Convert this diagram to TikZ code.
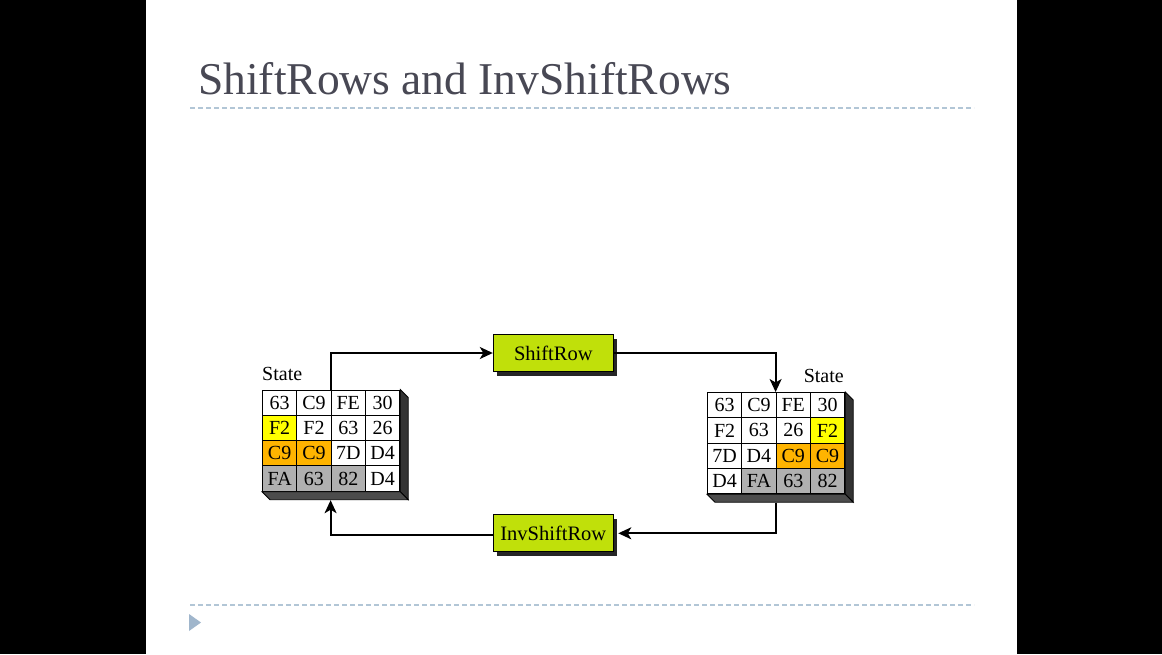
\documentclass[tikz,border=0pt]{standalone}
\usepackage{fontspec}
\setmainfont{Liberation Serif}
\usetikzlibrary{arrows.meta,calc,shadows}
\definecolor{titlegray}{RGB}{72,72,84}
\definecolor{rulecol}{RGB}{178,198,214}
\definecolor{tricol}{RGB}{160,182,204}
\definecolor{boxgreen}{RGB}{192,224,10}
\definecolor{cy}{RGB}{255,255,0}
\definecolor{co}{RGB}{255,180,0}
\definecolor{cg}{RGB}{176,176,176}
\begin{document}
\begin{tikzpicture}[x=1pt,y=-1pt,
  cellbox/.style={draw=black, line width=1pt, minimum width=34.3pt, minimum height=25.3pt, inner sep=0pt, font=\fontsize{20}{20}\selectfont},
  opbox/.style={draw=black, line width=1pt, fill=boxgreen, minimum width=120pt, minimum height=37pt, inner sep=0pt, font=\fontsize{20.5}{22}\selectfont, drop shadow={shadow xshift=4pt, shadow yshift=-4pt, fill=black!85, opacity=1}},
  lbl/.style={inner sep=0pt, font=\fontsize{20}{22}\selectfont},
  conn/.style={draw=black, line width=1.8pt, -{Stealth[length=13pt,width=12pt,inset=3.5pt]}},
  rightface/.style={fill=black!80, draw=black, line width=0.8pt},
  bottomface/.style={fill=black!70, draw=black, line width=0.8pt},
  dashrule/.style={draw=rulecol, line width=1.3pt, dash pattern=on 5pt off 3pt}
]
% background
\fill[black] (0,0) rectangle (1162,654);
\fill[white] (145.5,0) rectangle (1016.5,654);
\useasboundingbox (0,0) rectangle (1162,654);

% title and rules
\node[anchor=base west, inner sep=0pt, text=titlegray, font=\fontsize{45.5}{50}\selectfont] (title) at (198,94) {ShiftRows and InvShiftRows};
\draw[dashrule] (190,108) -- (974,108);
\draw[dashrule] (190,605) -- (974,605);
\fill[tricol] (189,614) -- (201,622.5) -- (189,631) -- cycle;

% left state
\foreach \r/\c/\t/\f in {1/1/63/white,1/2/C9/white,1/3/FE/white,1/4/30/white,
  2/1/F2/cy,2/2/F2/white,2/3/63/white,2/4/26/white,
  3/1/C9/co,3/2/C9/co,3/3/7D/white,3/4/D4/white,
  4/1/FA/cg,4/2/63/cg,4/3/82/cg,4/4/D4/white}
  \node[cellbox, fill=\f] (L\r\c) at ({262.5+(\c-0.5)*34.3},{390+(\r-0.5)*25.3}) {\t};
\fill[rightface] (L14.north east) -- ++(8,8) -- ($(L44.south east)+(8,8)$) -- (L44.south east) -- cycle;
\fill[bottomface] (L41.south west) -- (L44.south east) -- ($(L44.south east)+(8,8)$) -- ($(L41.south west)+(8,8)$) -- cycle;
\node[lbl, anchor=base west] (lstate) at (262,380) {State};

% right state
\foreach \r/\c/\t/\f in {1/1/63/white,1/2/C9/white,1/3/FE/white,1/4/30/white,
  2/1/F2/white,2/2/63/white,2/3/26/white,2/4/F2/cy,
  3/1/7D/white,3/2/D4/white,3/3/C9/co,3/4/C9/co,
  4/1/D4/white,4/2/FA/cg,4/3/63/cg,4/4/82/cg}
  \node[cellbox, fill=\f] (R\r\c) at ({707.5+(\c-0.5)*34.3},{392.5+(\r-0.5)*25.3}) {\t};
\fill[rightface] (R14.north east) -- ++(8,8) -- ($(R44.south east)+(8,8)$) -- (R44.south east) -- cycle;
\fill[bottomface] (R41.south west) -- (R44.south east) -- ($(R44.south east)+(8,8)$) -- ($(R41.south west)+(8,8)$) -- cycle;
\node[lbl, anchor=base east] (rstate) at (844,382) {State};

% operation boxes
\node[opbox] (shift) at (553.3,353) {ShiftRow};
\node[opbox] (inv) at (553.3,533.3) {InvShiftRow};

% connector end points
\coordinate (Lbot) at ($(L43.south west)+(0,8.5)$);
\coordinate (Rbot) at ($(R43.south west)+(0,8.5)$);
\coordinate (invE) at ($(inv.east)+(4.5,0)$);
\coordinate (invW) at ($(inv.west)+(0,2)$);

% connectors
\draw[conn] (L13.north west) |- (shift.west);
\draw[conn] (shift.east) -| (R13.north west);
\draw[conn] (Rbot) |- (invE);
\draw[conn] (invW) -| (Lbot);
\end{tikzpicture}
\end{document}
